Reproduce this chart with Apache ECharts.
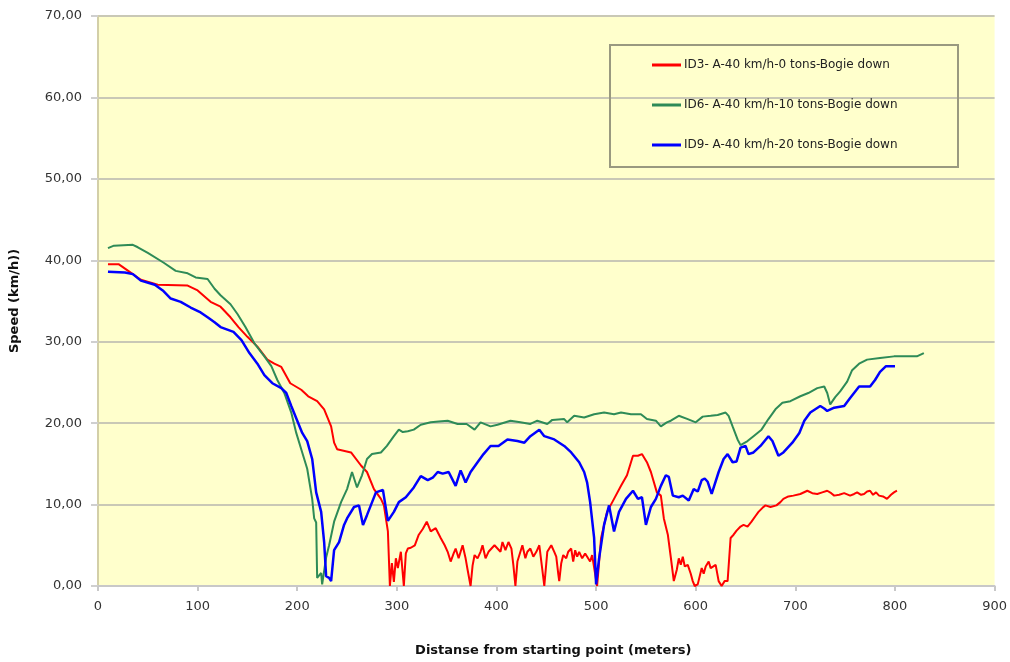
<!DOCTYPE html>
<html lang="en">
<head>
    <meta charset="UTF-8">
    <title>Speed vs distance</title>
    <script src="https://cdn.jsdelivr.net/npm/echarts@6/dist/echarts.min.js"></script>
    <style>
        html, body { margin: 0; padding: 0; background: #fff; }
        #chart { width: 1010px; height: 662px; }
    </style>
</head>
<body>
<div id="chart"></div>
<script>
    // ID3 - 0 tons
    var redX = [10, 21, 35, 43, 60, 90, 100, 113, 123, 133, 141, 150, 160, 170, 177, 184, 193, 204, 211, 220, 227, 234, 237, 240, 254, 264, 270, 277, 284, 287,
        291, 293, 295, 297, 299, 301, 304, 307, 309, 311, 314, 318, 322, 326, 330, 334, 339, 344, 348, 351, 354, 357, 359, 362, 366, 369, 371, 374, 376, 378,
        381, 384, 386, 389, 392, 395, 398, 401, 404, 406, 409, 412, 415, 417, 419, 421, 423, 426, 429, 431, 434, 437, 440, 443, 446, 448, 451, 453, 455, 458,
        460, 462, 463, 465, 467, 470, 472, 475, 477, 479, 481, 483, 486, 489, 491, 494, 496, 498, 501, 505, 511, 518, 525, 531, 537, 542, 546, 551, 555, 561,
        565, 568, 572, 575, 578, 581, 583, 585, 587, 589, 592, 595, 597, 599, 602, 604, 606, 608, 610, 613, 615, 617, 620, 623, 626, 629, 632, 635, 638, 641,
        645, 648, 652, 656, 660, 663, 667, 670, 675, 681, 685, 688, 693, 698, 705, 712, 717, 722, 727, 732, 736, 739, 744, 749, 755, 759, 762, 766, 769, 772,
        775, 778, 781, 784, 788, 792, 796, 799, 802];
    var redY = [39.5, 39.5, 38.3, 37.6, 37.0, 36.9, 36.3, 34.9, 34.3, 33.0, 31.8, 30.6, 29.4, 27.8, 27.3, 26.9, 24.9, 24.1, 23.3, 22.7, 21.7, 19.6, 17.6, 16.8, 16.4, 14.8, 14.0, 11.9, 10.7, 9.9,
        6.7, 0, 2.8, 0.5, 3.4, 2.2, 4.2, 0, 4.0, 4.6, 4.7, 5.0, 6.3, 7.0, 7.9, 6.7, 7.1, 5.9, 5.0, 4.2, 3.0, 4.0, 4.6, 3.4, 5.0, 3.4, 2.0, 0, 2.5, 3.8,
        3.4, 4.2, 5.0, 3.4, 4.2, 4.6, 5.0, 4.6, 4.2, 5.4, 4.4, 5.4, 4.6, 2.5, 0, 3.0, 3.8, 5.0, 3.4, 4.2, 4.6, 3.6, 4.2, 5.0, 2.0, 0, 4.2, 4.6, 5.0, 4.2,
        3.6, 1.5, 0.6, 2.8, 3.8, 3.4, 4.2, 4.6, 3.0, 4.4, 3.6, 4.2, 3.4, 4.0, 3.8, 3.0, 3.8, 3.8, 0, 5.9, 9.1, 10.7, 12.3, 13.6, 16.0, 16.0, 16.2, 15.2, 14.0, 11.5,
        11.1, 8.3, 6.3, 3.5, 0.6, 2.0, 3.4, 2.6, 3.6, 2.4, 2.6, 1.5, 0.6, 0, 0.2, 0, 2.2, 1.5, 2.4, 3.0, 2.2, 2.4, 2.6, 0.6, 0, 0.6, 0.6, 5.9, 6.3, 6.8,
        7.3, 7.5, 7.3, 7.9, 8.6, 9.1, 9.6, 9.9, 9.7, 9.9, 10.3, 10.7, 11.0, 11.1, 11.3, 11.7, 11.4, 11.3, 11.5, 11.7, 11.4, 11.1, 11.2, 11.4, 11.1, 11.3, 11.5, 11.2, 11.3, 11.6,
        11.7, 11.2, 11.5, 11.1, 11.0, 10.7, 11.2, 11.5, 11.7];

    // ID6 - 10 tons
    var greenX = [10, 16, 35, 40, 50, 66, 78, 90, 98, 110, 117, 123, 133, 140, 148, 157, 167, 174, 180, 187, 194, 199, 204, 210, 215, 217, 219, 220, 224, 225,
        229, 232, 237, 244, 250, 255, 260, 265, 270, 275, 284, 290, 297, 302, 306, 311, 317, 324, 334, 342, 351, 361, 370, 378, 384, 394, 401, 414, 424, 434,
        441, 451, 456, 468, 471, 478, 488, 498, 508, 518, 525, 535, 545, 551, 560, 565, 571, 575, 583, 592, 600, 607, 615, 622, 630, 633, 637, 642, 645, 652,
        658, 666, 673, 680, 687, 695, 705, 713, 722, 729, 732, 735, 740, 745, 752, 757, 764, 772, 785, 799, 812, 822, 829];
    var greenY = [41.5, 41.8, 41.9, 41.6, 40.9, 39.7, 38.7, 38.4, 37.9, 37.7, 36.5, 35.7, 34.6, 33.4, 31.8, 29.8, 28.2, 27.0, 25.3, 23.7, 21.3, 18.8, 16.8, 14.4, 10.7, 8.3, 7.8, 1.0, 1.6, 0.2,
        3.5, 5.0, 7.9, 10.3, 11.9, 14.0, 12.1, 13.6, 15.6, 16.2, 16.4, 17.2, 18.4, 19.2, 18.9, 19.0, 19.2, 19.8, 20.1, 20.2, 20.3, 19.9, 19.9, 19.2, 20.1, 19.6, 19.8, 20.3, 20.1, 19.9,
        20.3, 19.9, 20.4, 20.5, 20.1, 20.9, 20.7, 21.1, 21.3, 21.1, 21.3, 21.1, 21.1, 20.5, 20.3, 19.6, 20.1, 20.3, 20.9, 20.5, 20.1, 20.8, 20.9, 21.0, 21.3, 20.9, 19.6, 18.0, 17.3, 17.8,
        18.4, 19.2, 20.5, 21.7, 22.5, 22.7, 23.3, 23.7, 24.3, 24.5, 23.7, 22.3, 23.2, 23.9, 25.1, 26.5, 27.3, 27.8, 28.0, 28.2, 28.2, 28.2, 28.6];

    // ID9 - 20 tons
    var blueX = [10, 27, 35, 43, 57, 65, 73, 83, 93, 103, 110, 117, 123, 136, 144, 152, 160, 167, 175, 184, 189, 194, 200, 205, 210, 215, 219, 224, 227, 229,
        232, 234, 237, 242, 247, 250, 257, 262, 266, 270, 279, 286, 291, 297, 302, 309, 317, 324, 331, 336, 341, 346, 352, 359, 364, 369, 374, 381, 387, 394,
        402, 411, 421, 428, 434, 443, 448, 458, 468, 475, 483, 488, 491, 494, 498, 500, 503, 508, 513, 518, 523, 530, 537, 542, 546, 550, 555, 560, 565, 570,
        573, 577, 583, 587, 593, 598, 602, 606, 609, 612, 616, 623, 628, 632, 637, 641, 645, 650, 653, 658, 665, 673, 677, 683, 688, 697, 704, 709, 715, 725,
        729, 732, 739, 749, 755, 764, 775, 780, 785, 791, 800];
    var blueY = [38.6, 38.5, 38.3, 37.5, 37.0, 36.3, 35.3, 34.9, 34.2, 33.6, 33.0, 32.4, 31.8, 31.2, 30.2, 28.6, 27.3, 25.9, 24.9, 24.3, 23.7, 22.1, 20.3, 18.8, 17.8, 15.6, 11.5, 9.1, 5.4, 1.2,
        1.0, 0.6, 4.4, 5.4, 7.5, 8.3, 9.7, 9.9, 7.5, 8.7, 11.5, 11.8, 8.0, 9.1, 10.3, 10.9, 12.1, 13.5, 13.0, 13.3, 14.0, 13.8, 14.0, 12.3, 14.2, 12.7, 14.0, 15.2, 16.2, 17.2,
        17.2, 18.0, 17.8, 17.6, 18.4, 19.2, 18.4, 18.0, 17.2, 16.4, 15.2, 14.0, 12.7, 10.3, 5.9, 0.2, 3.4, 7.5, 9.9, 6.7, 9.1, 10.7, 11.7, 10.7, 10.9, 7.5, 9.7, 10.7, 12.3, 13.6,
        13.4, 11.1, 10.9, 11.1, 10.5, 11.9, 11.6, 13.0, 13.2, 12.8, 11.3, 14.0, 15.6, 16.2, 15.2, 15.3, 17.0, 17.2, 16.2, 16.4, 17.2, 18.4, 17.8, 16.0, 16.4, 17.6, 18.8, 20.3, 21.3, 22.1,
        21.8, 21.5, 21.9, 22.1, 23.1, 24.5, 24.5, 25.3, 26.3, 27.0, 27.0];

    var seriesNames = ['ID3- A-40 km/h-0 tons-Bogie down', 'ID6- A-40 km/h-10 tons-Bogie down', 'ID9- A-40 km/h-20 tons-Bogie down'];

    function pairs(xs, ys) {
        return xs.map(function (x, i) { return [x, ys[i]]; });
    }

    var chart = echarts.init(document.getElementById('chart'));
    var font = 'DejaVu Sans';

    chart.setOption({
        animation: false,
        backgroundColor: '#fff',
        textStyle: { fontFamily: font },
        grid: {
            left: 97, right: 15, top: 16, bottom: 70,
            show: true, backgroundColor: '#FFFFCC', borderWidth: 0
        },
        // legend frame
        graphic: [{
            type: 'rect',
            shape: { x: 610, y: 45, width: 348, height: 122 },
            style: { fill: 'none', stroke: '#999980', lineWidth: 2 },
            z: 10
        }],
        legend: {
            orient: 'vertical',
            left: 652, top: 59,
            padding: 0,
            itemGap: 28,
            itemWidth: 29, itemHeight: 3,
            icon: 'rect',
            textStyle: { fontFamily: font, fontSize: 12, color: '#222', padding: [0, 0, 0, -2] },
            data: seriesNames
        },
        xAxis: {
            type: 'value', min: 0, max: 900, interval: 100,
            name: 'Distanse from starting point (meters)',
            nameLocation: 'middle', nameGap: 58,
            nameTextStyle: { fontFamily: font, fontWeight: 'bold', fontSize: 13, color: '#111', padding: [0, 0, 0, 14] },
            axisLine: { show: true, lineStyle: { color: '#C8C8C8', width: 2 } },
            axisTick: { show: true, length: 5, lineStyle: { color: '#C8C8C8', width: 2 } },
            axisLabel: { fontSize: 13, color: '#333', margin: 14 },
            splitLine: { show: false }
        },
        yAxis: {
            type: 'value', min: 0, max: 70, interval: 10,
            name: 'Speed (km/h))',
            nameLocation: 'middle', nameGap: 77,
            nameTextStyle: { fontFamily: font, fontWeight: 'bold', fontSize: 13, color: '#111' },
            axisLine: { show: true, lineStyle: { color: '#D3CFA8', width: 2 } },
            axisTick: { show: true, length: 7, lineStyle: { color: '#CFCFCF', width: 2 } },
            axisLabel: {
                fontSize: 13, color: '#333', margin: 16,
                formatter: function (v) { return v.toFixed(2).replace('.', ','); }
            },
            splitLine: { show: true, lineStyle: { color: '#C9C8B6', width: 2 } }
        },
        series: [{
            name: seriesNames[0], type: 'line', symbol: 'none',
            data: pairs(redX, redY),
            itemStyle: { color: '#FF0000' },
            lineStyle: { color: '#FF0000', width: 2 }
        }, {
            name: seriesNames[1], type: 'line', symbol: 'none',
            data: pairs(greenX, greenY),
            itemStyle: { color: '#2E8B57' },
            lineStyle: { color: '#2E8B57', width: 2 }
        }, {
            name: seriesNames[2], type: 'line', symbol: 'none',
            data: pairs(blueX, blueY),
            itemStyle: { color: '#0000FF' },
            lineStyle: { color: '#0000FF', width: 2.5 }
        }]
    });
</script>
</body>
</html>
